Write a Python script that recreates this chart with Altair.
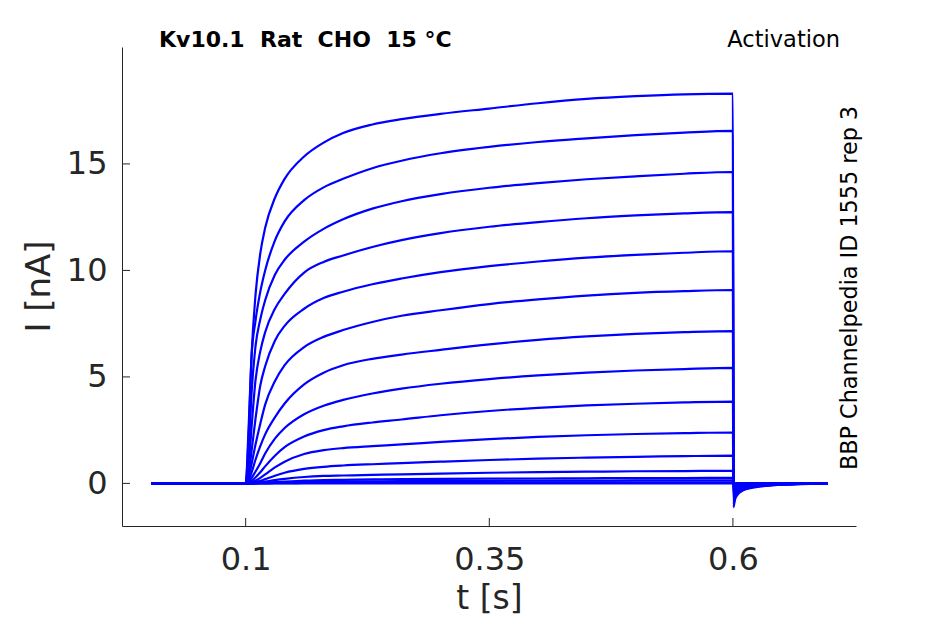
import altair as alt
import pandas as pd

# time points (s) for the step and the tail
t_step = [0.003, 0.1, 0.103, 0.106, 0.11, 0.115, 0.12, 0.13, 0.14, 0.16, 0.18,
          0.2, 0.23, 0.26, 0.3, 0.35, 0.4, 0.45, 0.5, 0.55, 0.6]
t_tail = [0.6005, 0.602, 0.605, 0.61, 0.62, 0.635, 0.65, 0.67, 0.697]

# currents (nA), one list per sweep (step part)
step_1 = [0, 0, 2.6, 6.0, 8.8, 10.8, 12.0, 13.4, 14.3, 15.35, 16.0, 16.45, 16.85, 17.1, 17.35, 17.6, 17.85, 18.05, 18.18, 18.27, 18.3]
step_2 = [0, 0, 2.2, 5.9, 7.6, 9.0, 10.0, 11.4, 12.3, 13.3, 13.9, 14.3, 14.8, 15.15, 15.5, 15.8, 16.03, 16.2, 16.35, 16.47, 16.55]
step_3 = [0, 0, 1.4, 4.2, 6.4, 7.7, 8.6, 9.8, 10.5, 11.35, 11.95, 12.4, 12.9, 13.25, 13.58, 13.88, 14.1, 14.28, 14.42, 14.54, 14.62]
step_4 = [0, 0, 0.8, 2.6, 4.8, 6.2, 7.1, 8.2, 8.9, 9.9, 10.4, 10.7, 11.1, 11.42, 11.75, 12.05, 12.27, 12.45, 12.58, 12.68, 12.74]
step_5 = [0, 0, 0.5, 1.5, 3.0, 4.6, 5.5, 6.7, 7.4, 8.2, 8.7, 9.0, 9.35, 9.62, 9.92, 10.2, 10.42, 10.6, 10.73, 10.83, 10.9]
step_6 = [0, 0, 0.3, 0.9, 1.8, 2.8, 3.7, 4.8, 5.55, 6.4, 6.88, 7.2, 7.58, 7.87, 8.13, 8.42, 8.64, 8.82, 8.95, 9.03, 9.08]
step_7 = [0, 0, 0.15, 0.5, 1.1, 1.75, 2.3, 3.1, 3.75, 4.65, 5.2, 5.55, 5.85, 6.05, 6.27, 6.53, 6.74, 6.9, 7.02, 7.1, 7.15]
step_8 = [0, 0, 0.07, 0.25, 0.55, 0.95, 1.4, 2.1, 2.6, 3.25, 3.65, 3.92, 4.22, 4.45, 4.68, 4.9, 5.07, 5.2, 5.3, 5.37, 5.42]
step_9 = [0, 0, 0.03, 0.12, 0.28, 0.52, 0.8, 1.3, 1.7, 2.2, 2.5, 2.68, 2.86, 3.0, 3.2, 3.4, 3.55, 3.66, 3.74, 3.8, 3.84]
step_10 = [0, 0, 0.01, 0.05, 0.13, 0.26, 0.42, 0.75, 1.02, 1.38, 1.56, 1.66, 1.75, 1.83, 1.95, 2.08, 2.18, 2.26, 2.32, 2.36, 2.39]
step_11 = [0, 0, 0, 0.02, 0.06, 0.12, 0.2, 0.36, 0.5, 0.68, 0.78, 0.84, 0.9, 0.95, 1.02, 1.1, 1.16, 1.21, 1.25, 1.28, 1.3]
step_12 = [0, 0, 0, 0.01, 0.02, 0.05, 0.08, 0.15, 0.21, 0.3, 0.35, 0.37, 0.4, 0.42, 0.46, 0.5, 0.53, 0.55, 0.57, 0.58, 0.59]
step_13 = [0, 0, 0, 0, 0.01, 0.02, 0.03, 0.06, 0.09, 0.13, 0.16, 0.17, 0.19, 0.2, 0.21, 0.22, 0.23, 0.24, 0.25, 0.25, 0.26]
step_14 = [0, 0, 0, 0, 0, 0.01, 0.01, 0.03, 0.04, 0.07, 0.08, 0.09, 0.1, 0.11, 0.12, 0.12, 0.13, 0.13, 0.14, 0.14, 0.14]
step_15 = [0, 0, 0, 0, 0, 0, 0, 0.01, 0.01, 0.02, 0.03, 0.03, 0.04, 0.04, 0.04, 0.05, 0.05, 0.05, 0.05, 0.05, 0.05]
step_16 = [0, 0, 0, 0, 0, 0, 0, 0, 0, 0, 0, 0, 0, 0, 0, 0, 0, 0, 0, 0, 0]

# tail currents (nA) after the step, one list per sweep
tail_1 = [-1.12, -0.78, -0.52, -0.34, -0.2, -0.11, -0.06, -0.03, 0]
tail_2 = [-1.0, -0.7, -0.46, -0.3, -0.18, -0.1, -0.055, -0.025, 0]
tail_3 = [-0.9, -0.62, -0.41, -0.27, -0.16, -0.09, -0.05, -0.02, 0]
tail_4 = [-0.8, -0.55, -0.37, -0.24, -0.14, -0.08, -0.04, -0.02, 0]
tail_5 = [-0.7, -0.48, -0.32, -0.21, -0.12, -0.07, -0.035, -0.015, 0]
tail_6 = [-0.6, -0.41, -0.27, -0.18, -0.1, -0.06, -0.03, -0.01, 0]
tail_7 = [-0.5, -0.34, -0.23, -0.15, -0.09, -0.05, -0.025, -0.01, 0]
tail_8 = [-0.4, -0.27, -0.18, -0.12, -0.07, -0.04, -0.02, -0.01, 0]
tail_9 = [-0.3, -0.2, -0.14, -0.09, -0.05, -0.03, -0.015, 0, 0]
tail_10 = [-0.2, -0.14, -0.09, -0.06, -0.035, -0.02, -0.01, 0, 0]
tail_11 = [-0.12, -0.08, -0.05, -0.035, -0.02, -0.01, 0, 0, 0]
tail_12 = [-0.06, -0.04, -0.03, -0.02, -0.01, 0, 0, 0, 0]
tail_13 = [-0.03, -0.02, -0.01, 0, 0, 0, 0, 0, 0]
tail_14 = [-0.02, -0.01, 0, 0, 0, 0, 0, 0, 0]
tail_15 = [-0.01, 0, 0, 0, 0, 0, 0, 0, 0]
tail_16 = [0, 0, 0, 0, 0, 0, 0, 0, 0]

steps = [step_1, step_2, step_3, step_4, step_5, step_6, step_7, step_8,
         step_9, step_10, step_11, step_12, step_13, step_14, step_15, step_16]
tails = [tail_1, tail_2, tail_3, tail_4, tail_5, tail_6, tail_7, tail_8,
         tail_9, tail_10, tail_11, tail_12, tail_13, tail_14, tail_15, tail_16]

x_ticks = [0.1, 0.35, 0.6]
y_ticks = [0, 5, 10, 15]

NB = "\u00a0"
title_text = "Kv10.1" + NB + NB + "Rat" + NB + NB + "CHO" + NB + NB + "15 °C"
protocol_text = "Activation"
source_text = "BBP Channelpedia ID 1555 rep 3"

rows = []
for k, (s, tl) in enumerate(zip(steps, tails)):
    for i, (tt, v) in enumerate(zip(t_step + t_tail, s + tl)):
        rows.append({"sweep": k, "order": i, "t": tt, "I": v})
df = pd.DataFrame(rows)

FONT = "DejaVu Sans"
INK = "#262626"

xscale = alt.Scale(domain=[-0.0269, 0.7263], nice=False, zero=False)
yscale = alt.Scale(domain=[-2.0, 20.49], nice=False, zero=False)

x_axis = alt.Axis(values=x_ticks, format=".2~f", title="t [s]", ticks=False, grid=False,
                  labelPadding=18, titleY=82, titleBaseline="alphabetic", titleFontSize=33)
y_axis = alt.Axis(values=y_ticks, format="d", title="I [nA]", ticks=False, grid=False,
                  labelPadding=15, titleX=-83, titleY=239, titleBaseline="middle",
                  titleAngle=270, titleAlign="center")

lines = alt.Chart(df).mark_line(color="#0000ff", strokeWidth=2.2, interpolate="monotone").encode(
    x=alt.X("t:Q", scale=xscale, axis=x_axis),
    y=alt.Y("I:Q", scale=yscale, axis=y_axis),
    detail="sweep:N",
    order="order:Q",
)

ytick_df = pd.DataFrame({"I": y_ticks})
yticks = alt.Chart(ytick_df).mark_rule(color=INK, strokeWidth=1).encode(
    y=alt.Y("I:Q", scale=yscale, axis=y_axis), x=alt.value(0), x2=alt.value(8))

xtick_df = pd.DataFrame({"t": x_ticks})
xticks = alt.Chart(xtick_df).mark_rule(color=INK, strokeWidth=1).encode(
    x=alt.X("t:Q", scale=xscale, axis=x_axis), y=alt.value(479), y2=alt.value(471))

title = alt.Chart(pd.DataFrame({"label": [title_text]})).mark_text(
    font=FONT, fontSize=22, fontWeight="bold", color="black", align="left", baseline="alphabetic"
).encode(text="label:N", x=alt.value(37), y=alt.value(0))

protocol = alt.Chart(pd.DataFrame({"label": [protocol_text]})).mark_text(
    font=FONT, fontSize=22.5, color="black", align="right", baseline="alphabetic"
).encode(text="label:N", x=alt.value(718), y=alt.value(0))

source = alt.Chart(pd.DataFrame({"label": [source_text]})).mark_text(
    font=FONT, fontSize=22.3, color="black", align="center", baseline="alphabetic", angle=270
).encode(text="label:N", x=alt.value(735), y=alt.value(241))

chart = alt.layer(lines, yticks, xticks, title, protocol, source).properties(
    width=734, height=479,
    autosize=alt.AutoSizeParams(type="none"),
    padding={"left": 114, "top": 39, "right": 70, "bottom": 90},
).configure_view(stroke=None).configure_axis(
    domainColor=INK, domainWidth=1, labelColor=INK, titleColor=INK,
    labelFont=FONT, titleFont=FONT, labelFontSize=32, titleFontSize=34,
    titleFontWeight="normal",
)

chart.save("out.html", embed_options={"renderer": "svg", "actions": False})
